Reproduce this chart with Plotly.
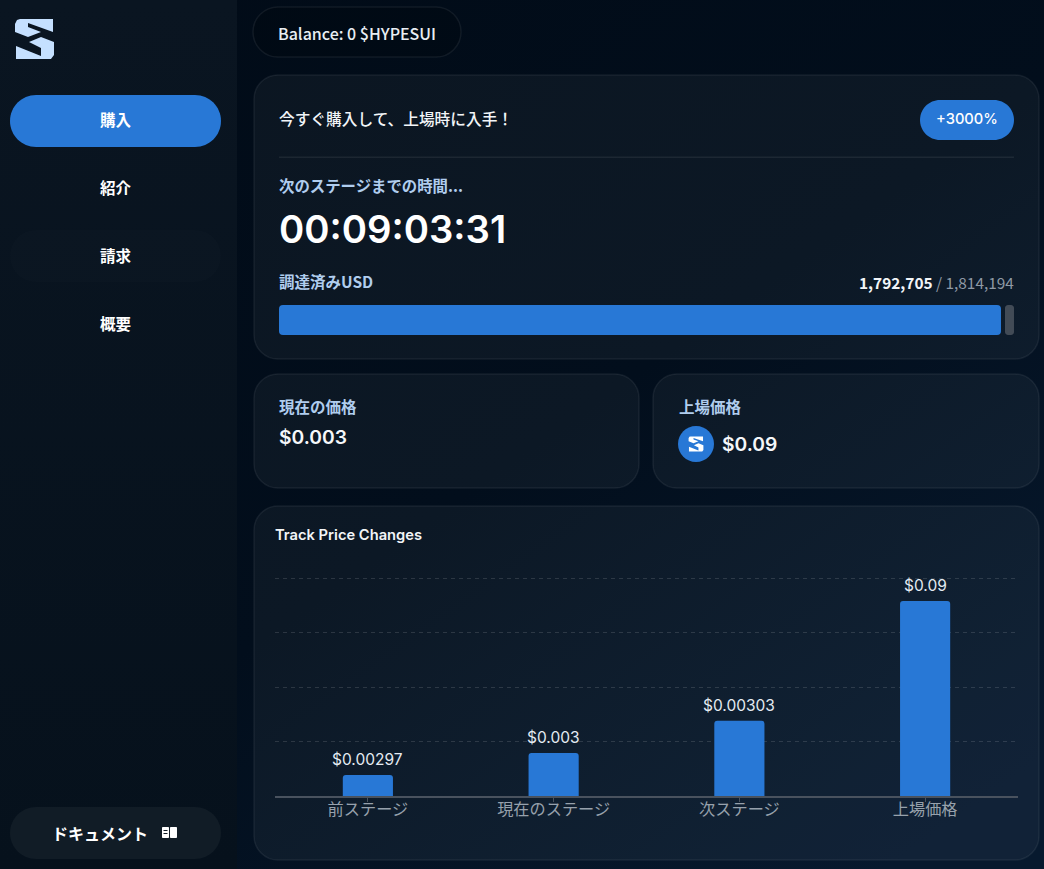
import base64
import plotly.graph_objects as go

W = 1044
H = 869

# chart data
stage_names = ["前ステージ", "現在のステージ", "次ステージ", "上場価格"]
stage_prices = ["$0.00297", "$0.003", "$0.00303", "$0.09"]
bar_heights = [9.6, 19.7, 34.5, 89.5]
grid_ticks = [0, 25, 50, 75, 100]

# funding progress
raised_usd = [1792705]
goal_usd = 1814194

BLUE = "#2878d6"
PALE = "#b0cdee"
WHITE = "#f2f5f8"
CARD_FILL = "rgba(255,255,255,0.042)"
CARD_LINE = "rgba(255,255,255,0.065)"
CJK = "Noto Sans CJK JP"
LATIN = "Inter"


def fx(x):
    return x / W


def fy(y):
    return 1 - y / H


def p(x, y):
    return f"{fx(x):.5f},{fy(y):.5f}"


# rounded rectangle as svg path in paper coordinates
def round_rect(x0, y0, x1, y1, r):
    k = r * 0.448
    return (
        f"M{p(x0 + r, y0)} L{p(x1 - r, y0)} C{p(x1 - k, y0)} {p(x1, y0 + k)} {p(x1, y0 + r)} "
        f"L{p(x1, y1 - r)} C{p(x1, y1 - k)} {p(x1 - k, y1)} {p(x1 - r, y1)} "
        f"L{p(x0 + r, y1)} C{p(x0 + k, y1)} {p(x0, y1 - k)} {p(x0, y1 - r)} "
        f"L{p(x0, y0 + r)} C{p(x0, y0 + k)} {p(x0 + k, y0)} {p(x0 + r, y0)} Z"
    )


def polygon(points):
    body = " L".join(p(x, y) for x, y in points)
    return f"M{body} Z"


def add_box(x0, y0, x1, y1, r, fill, line=None, width=1.5):
    shapes.append(
        dict(
            type="path",
            path=round_rect(x0, y0, x1, y1, r),
            xref="paper",
            yref="paper",
            fillcolor=fill,
            line=dict(color=line or "rgba(0,0,0,0)", width=width if line else 0),
            layer="below",
        )
    )


def add_poly(points, fill):
    shapes.append(
        dict(
            type="path",
            path=polygon(points),
            xref="paper",
            yref="paper",
            fillcolor=fill,
            line=dict(width=0),
            layer="below",
        )
    )


def add_text(x, y, text, size, color=WHITE, family=CJK, weight=400, anchor="left"):
    annotations.append(
        dict(
            x=fx(x),
            y=fy(y),
            xref="paper",
            yref="paper",
            text=text,
            showarrow=False,
            borderpad=0,
            borderwidth=0,
            xanchor=anchor,
            yanchor="middle",
            font=dict(size=size, color=color, family=family, weight=weight),
        )
    )


# logo outline, drawn at its size in the sidebar and scaled for the round badge
logo_top = [(15, 24), (17, 20), (20, 19), (53, 19), (53, 32), (28, 23), (28, 27), (41, 32), (28, 37), (15, 32)]
logo_bottom = [(54, 42), (54, 55), (51, 59), (16, 59), (16, 46), (41, 56), (41, 48), (29, 42), (41, 37)]


def add_logo(cx, cy, scale, fill):
    for part in (logo_top, logo_bottom):
        add_poly([(cx + (x - 34.5) * scale, cy + (y - 39) * scale) for x, y in part], fill)


shapes = []
annotations = []

# background gradients, plotly shapes can only do flat fills
svg = f"""<svg xmlns="http://www.w3.org/2000/svg" width="{W}" height="{H}">
<defs>
<linearGradient id="page" x1="0" y1="0" x2="0.85" y2="1">
<stop offset="0" stop-color="#010b17"/><stop offset="0.55" stop-color="#020e1c"/>
<stop offset="1" stop-color="#07192e"/></linearGradient>
<linearGradient id="side" x1="0" y1="0" x2="0" y2="1">
<stop offset="0" stop-color="#0a1521"/><stop offset="1" stop-color="#06111c"/></linearGradient>
</defs>
<rect width="{W}" height="{H}" fill="url(#page)"/>
<rect width="237" height="{H}" fill="url(#side)"/>
</svg>"""
bg_source = "data:image/svg+xml;base64," + base64.b64encode(svg.encode()).decode()

# sidebar
add_box(10, 95, 221, 147, 26, BLUE)
add_box(10, 230, 221, 282, 26, "rgba(255,255,255,0.012)")
add_box(10, 807, 221, 859, 26, "#111c26")
for label, y in [("購入", 119), ("紹介", 187), ("請求", 255), ("概要", 323)]:
    add_text(115.5, y, label, 15.5, "#ffffff", weight=700, anchor="center")
add_text(99.5, 833, "ドキュメント", 16, "#ffffff", weight=700, anchor="center")

add_logo(34.5, 39, 1, "#c5e0ff")

# book icon
add_box(162, 827, 169, 838, 1, "#ffffff")
add_box(170, 827, 177, 838, 1, "#ffffff")
add_poly([(163.5, 830), (167.5, 830), (167.5, 831), (163.5, 831)], "#111c26")
add_poly([(163.5, 833), (167.5, 833), (167.5, 834), (163.5, 834)], "#111c26")

# balance pill
add_box(253, 7, 461, 57, 25, "rgba(0,0,0,0.15)", CARD_LINE)
add_text(278, 33, "Balance: 0 $HYPESUI", 16, "#e9eef3", weight=500)

# top card
add_box(254, 75, 1039, 359, 24, CARD_FILL, CARD_LINE)
add_text(279, 118, "今すぐ購入して、上場時に入手！", 15.7, "#f2f5f8", weight=500)
add_box(920, 100, 1014, 140, 20, BLUE)
add_text(967, 119, "+3000%", 14.7, "#ffffff", LATIN, 500, "center")
add_poly([(279, 156.5), (1014, 156.5), (1014, 158), (279, 158)], "rgba(255,255,255,0.07)")
add_text(279, 185, "次のステージまでの時間...", 15.4, PALE, weight=600)
add_text(279, 229, "00:09:03:31", 38.3, "#ffffff", LATIN, 600)
add_text(279, 281, "調達済みUSD", 15.5, PALE, weight=600)
add_text(
    1014,
    282,
    f"<b>{raised_usd[0]:,}</b> <span style='color:#8f99a5'>/ {goal_usd:,}</span>",
    15.4,
    "#f2f5f8",
    anchor="right",
)
add_box(1005, 305, 1014, 335, 3, "#424b56")

# price cards
add_box(254, 374, 639, 488, 24, CARD_FILL, CARD_LINE)
add_text(279, 406, "現在の価格", 15.5, PALE, weight=600)
add_text(279, 437, "$0.003", 19.3, "#f5f7fa", LATIN, 600)
add_box(653, 374, 1039, 488, 24, CARD_FILL, CARD_LINE)
add_text(679, 406, "上場価格", 15.5, PALE, weight=600)
add_box(678, 426, 714, 462, 18, BLUE)
add_logo(696, 444, 0.38, "#ffffff")
add_text(722, 444, "$0.09", 19.3, "#f5f7fa", LATIN, 600)

# chart card
add_box(254, 506, 1039, 860, 24, CARD_FILL, CARD_LINE)
add_text(275, 535, "Track Price Changes", 14.7, "#f2f5f8", LATIN, 600)

# plotly only rounds the bar tip, so trim the left corners of the progress bar
for corner in (
    f"M{p(279, 305)} L{p(283, 305)} Q{p(279, 305)} {p(279, 309)} Z",
    f"M{p(279, 335)} L{p(283, 335)} Q{p(279, 335)} {p(279, 331)} Z",
):
    shapes.append(
        dict(
            type="path",
            path=corner,
            xref="paper",
            yref="paper",
            fillcolor="#0d1825",
            line=dict(width=0),
            layer="above",
        )
    )

# price labels sit a little higher above the bars than plotly's outside text
for name, price, height in zip(stage_names, stage_prices, bar_heights):
    annotations.append(
        dict(
            x=name,
            y=height,
            xref="x",
            yref="y",
            text=price,
            showarrow=False,
            borderpad=0,
            borderwidth=0,
            yanchor="bottom",
            yshift=6,
            font=dict(size=15.5, color="#e4ebf2", family=LATIN),
        )
    )

fig = go.Figure()

fig.add_trace(
    go.Bar(
        x=stage_names,
        y=bar_heights,
        width=0.27,
        marker=dict(color=BLUE, cornerradius=3, line=dict(width=0)),
        hoverinfo="skip",
        xaxis="x",
        yaxis="y",
    )
)

fig.add_trace(
    go.Bar(
        x=raised_usd,
        y=["調達済み"],
        orientation="h",
        width=1,
        marker=dict(color=BLUE, cornerradius=4, line=dict(width=0)),
        hoverinfo="skip",
        xaxis="x2",
        yaxis="y2",
    )
)

fig.update_layout(
    width=W,
    height=H,
    margin=dict(l=0, r=0, t=0, b=0),
    paper_bgcolor="#020e1c",
    plot_bgcolor="rgba(0,0,0,0)",
    showlegend=False,
    shapes=shapes,
    annotations=annotations,
    images=[
        dict(
            source=bg_source,
            xref="paper",
            yref="paper",
            x=0,
            y=1,
            sizex=1,
            sizey=1,
            sizing="stretch",
            xanchor="left",
            yanchor="top",
            layer="below",
        )
    ],
    xaxis=dict(
        domain=[fx(275), fx(1018)],
        type="category",
        categoryorder="array",
        categoryarray=stage_names,
        showgrid=False,
        showline=True,
        linecolor="#49525e",
        linewidth=2,
        ticks="outside",
        ticklen=4,
        tickwidth=1,
        tickcolor="#49525e",
        tickfont=dict(size=16.2, color="#97a1ac", family=CJK),
        ticklabelstandoff=-6,
        anchor="y",
    ),
    yaxis=dict(
        domain=[fy(796), fy(573.64)],
        range=[0, 102],
        tickvals=grid_ticks,
        showticklabels=False,
        showgrid=True,
        gridcolor="rgba(255,255,255,0.13)",
        griddash="4px,4px",
        gridwidth=1,
        zeroline=False,
        anchor="x",
    ),
    xaxis2=dict(
        domain=[fx(279), fx(1014)],
        range=[0, 1825000],
        visible=False,
        anchor="y2",
    ),
    yaxis2=dict(
        domain=[fy(335), fy(305)],
        type="category",
        visible=False,
        anchor="x2",
    ),
)

# drop the default page margin so paper coordinates line up with the window
fig.write_html(
    "out.html",
    post_script="document.body.style.margin='0';document.body.style.overflow='hidden';",
    config={"displayModeBar": False},
)
